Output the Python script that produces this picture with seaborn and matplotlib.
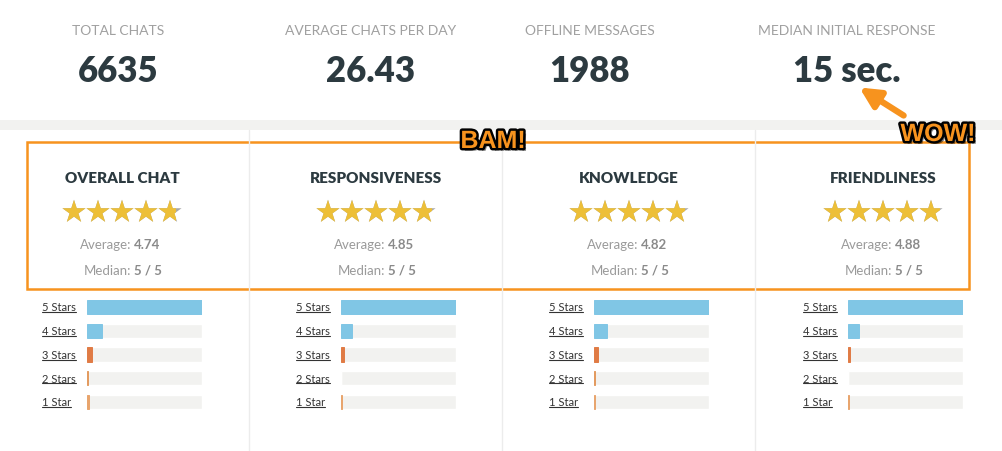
import matplotlib
matplotlib.use('Agg')
import matplotlib.pyplot as plt
import matplotlib.patheffects as pe
from matplotlib.patches import Rectangle, Polygon, PathPatch
from matplotlib.path import Path
import pandas as pd
import seaborn as sns

# Top summary numbers
stat_labels = ['TOTAL CHATS', 'AVERAGE CHATS PER DAY', 'OFFLINE MESSAGES', 'MEDIAN INITIAL RESPONSE']
stat_values = ['6635', '26.43', '1988', '15 sec.']

# Rating panels
categories = ['OVERALL CHAT', 'RESPONSIVENESS', 'KNOWLEDGE', 'FRIENDLINESS']
averages = [4.74, 4.85, 4.82, 4.88]
medians = ['5 / 5', '5 / 5', '5 / 5', '5 / 5']

# Star distribution, share of the largest bar
star_labels = ['5 Stars', '4 Stars', '3 Stars', '2 Stars', '1 Star']
overall_share = [1.0, 0.13, 0.045, 0.012, 0.015]
responsive_share = [1.0, 0.095, 0.025, 0.0, 0.01]
knowledge_share = [1.0, 0.115, 0.035, 0.01, 0.01]
friendly_share = [1.0, 0.095, 0.02, 0.0, 0.01]
shares = [overall_share, responsive_share, knowledge_share, friendly_share]

bar_colors = {'5 Stars': '#80c6e5', '4 Stars': '#80c6e5', '3 Stars': '#e07b45',
              '2 Stars': '#e39a5e', '1 Star': '#e8a46c'}

sns.set_theme(style='white')
plt.rcParams['font.family'] = ['Lato', 'DejaVu Sans']

W, H = 1002, 452
fig = plt.figure(figsize=(W / 100, H / 100), dpi=100)
ax = fig.add_axes([0, 0, 1, 1])
ax.set_xlim(0, W)
ax.set_ylim(H, 0)
ax.axis('off')

dark = '#2c3a40'
grey = '#9a9a9a'
orange = '#f7931e'

# top stats
stat_x = [118, 371, 590, 847]
for x, lab, val in zip(stat_x, stat_labels, stat_values):
    ax.text(x, 31, lab, ha='center', va='center', fontsize=10, color='#a0a0a0')
    ax.text(x, 71, val, ha='center', va='center', fontsize=25, color=dark, fontweight='heavy')

# grey band and column dividers
ax.add_patch(Rectangle((0, 121), W, 10, color='#f2f2f0', lw=0))
for x in [249, 502, 755]:
    ax.plot([x, x], [131, H], color='#ececec', lw=1)

# star outline (unit star, y flipped for the inverted axis)
unit = Path.unit_regular_star(5, 0.381966)
star_r = 12.2


def star_patch(cx, cy, color):
    verts = [(cx + vx * star_r, cy - vy * star_r) for vx, vy in unit.vertices]
    return PathPatch(Path(verts, unit.codes), facecolor=color, lw=0)


# panels
panel_x = [122, 376, 629, 883]
slot = 24
for cx, cat, avg, med in zip(panel_x, categories, averages, medians):
    ax.text(cx, 179, cat, ha='center', va='center', fontsize=11, color=dark, fontweight='heavy')
    start = cx - 2.5 * slot
    for i in range(5):
        sx = start + slot * (i + 0.5)
        fill = min(max(avg - i, 0), 1)
        ax.add_patch(star_patch(sx, 213, '#a8a8a8'))
        if fill > 0:
            gold = ax.add_patch(star_patch(sx, 213, '#edbf37'))
            x0 = start + slot * i
            x1 = x0 + slot * fill
            clip = Polygon([(x0, 195), (x1, 195), (x1, 230), (x0, 230)], transform=ax.transData)
            gold.set_clip_path(clip)
    ax.text(cx + 9, 245, 'Average:', ha='right', va='center', fontsize=9.5, color=grey)
    ax.text(cx + 12, 245, f'{avg:.2f}', ha='left', va='center', fontsize=9.5, color='#8a8a8a', fontweight='bold')
    ax.text(cx + 9, 271, 'Median:', ha='right', va='center', fontsize=9.5, color=grey)
    ax.text(cx + 12, 271, med, ha='left', va='center', fontsize=9.5, color='#8a8a8a', fontweight='bold')

# orange highlight box
ax.add_patch(Rectangle((27, 143), 942, 147, fill=False, ec=orange, lw=1.8))

# bar charts
label_x = [42, 296, 549, 803]
track_x = [87, 341, 594, 848]
row_gap = 23.75
labels_txt = []
for lx, tx, share in zip(label_x, track_x, shares):
    top = 308 - row_gap / 2
    bax = fig.add_axes([tx / W, 1 - (top + 5 * row_gap) / H, 115 / W, 5 * row_gap / H])
    df = pd.DataFrame({'label': star_labels, 'share': share, 'full': [1.0] * 5})
    sns.barplot(data=df, y='label', x='full', color='#f2f2f0', width=0.59, ax=bax, saturation=1)
    n_track = len(bax.patches)
    sns.barplot(data=df, y='label', x='share', hue='label', palette=bar_colors, width=0.59,
                ax=bax, legend=False, saturation=1)
    # keep the thin bars visible, like the browser's 1px minimum
    for p in bax.patches[n_track:]:
        if p.get_width() > 0:
            p.set_edgecolor(p.get_facecolor())
            p.set_linewidth(0.7)
    bax.set_xlim(0, 1)
    bax.axis('off')
    for j, lab in enumerate(star_labels):
        t = ax.text(lx, 308 + j * row_gap, lab, ha='left', va='center', fontsize=8, color='#333333')
        labels_txt.append(t)

# underline the star labels
fig.canvas.draw()
inv = ax.transData.inverted()
for t in labels_txt:
    bb = t.get_window_extent()
    (x0, y0), (x1, y1) = inv.transform([[bb.x0, bb.y0], [bb.x1, bb.y1]])
    ax.plot([x0, x1], [y0 - 0.5, y0 - 0.5], color='#333333', lw=0.8)

# callouts
for x, y, word in [(493, 142, 'BAM!'), (938, 135, 'WOW!')]:
    t = ax.text(x, y, word, ha='center', va='center', fontsize=18, color=orange,
                fontweight='bold', family=['Liberation Sans Narrow', 'Liberation Sans', 'DejaVu Sans'])
    t.set_path_effects([pe.SimplePatchShadow(offset=(2, -2), shadow_rgbFace='black', alpha=0.5),
                        pe.withStroke(linewidth=3.5, foreground='black')])
ax.annotate('', xy=(857, 87), xytext=(906, 118),
            arrowprops=dict(arrowstyle='-|>', color=orange, lw=4.5, mutation_scale=30))

fig.savefig('out.png', dpi=100, facecolor='white')
